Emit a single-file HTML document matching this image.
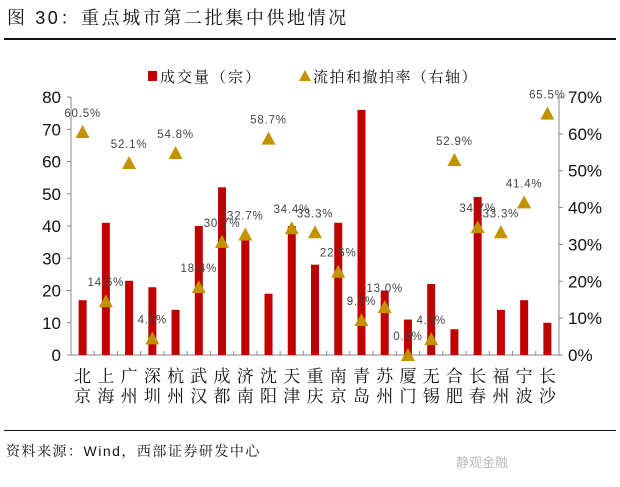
<!DOCTYPE html>
<html><head><meta charset="utf-8"><style>
body{margin:0;background:#fff;width:620px;height:487px;overflow:hidden;font-family:"Liberation Sans","Noto Sans CJK SC",sans-serif}
</style></head><body>
<div style="position:absolute;left:7px;top:4px;font-size:18px;letter-spacing:2.6px;color:#111;font-family:'Liberation Sans','Noto Serif CJK SC',serif">图 30：重点城市第二批集中供地情况</div>
<div style="position:absolute;left:4px;top:38px;width:612px;height:2px;background:#111"></div>
<svg id="c" width="620" height="487" style="position:absolute;left:0;top:0" font-family="Liberation Sans, Noto Sans CJK SC, sans-serif"></svg>
<div style="position:absolute;left:4px;top:430px;width:612px;height:1px;background:#111"></div>
<div style="position:absolute;left:6px;top:441px;font-size:14px;letter-spacing:1.5px;color:#111;font-family:'Liberation Sans','Noto Serif CJK SC',serif">资料来源：Wind，西部证券研发中心</div>
<div style="position:absolute;left:456px;top:452px;font-size:13px;color:#bbb">静观金融</div>
<script>
const cities=["北京","上海","广州","深圳","杭州","武汉","成都","济南","沈阳","天津","重庆","南京","青岛","苏州","厦门","无锡","合肥","长春","福州","宁波","长沙"];
const volume=[17,41,23,21,14,40,52,37,19,40,28,41,76,20,11,22,8,49,14,17,10];
const rate=[60.5,14.6,52.1,4.5,54.8,18.4,30.7,32.7,58.7,34.4,33.3,22.6,9.5,13.0,0.0,4.3,52.9,34.7,33.3,41.4,65.5];
const leftTicks=[0,10,20,30,40,50,60,70,80];
const rightTicks=[0,10,20,30,40,50,60,70];
const svg=document.getElementById('c');const NS='http://www.w3.org/2000/svg';
const X0=71,X1=559,Y0=355,Y1=97;
const band=(X1-X0)/cities.length;
const xc=i=>X0+band*(i+0.5);
const yl=v=>Y0-(v/80)*(Y0-Y1);
const yr=v=>Y0-(v/70)*(Y0-Y1);
function el(t,a,txt){const e=document.createElementNS(NS,t);for(const k in a)e.setAttribute(k,a[k]);if(txt!==undefined)e.textContent=txt;svg.appendChild(e);return e;}
let e;
e=el('line',{x1:X0,y1:Y1,x2:X0,y2:Y0,stroke:'#888'});


e=el('line',{x1:X1,y1:Y1,x2:X1,y2:Y0,stroke:'#888'});


e=el('line',{x1:X0,y1:Y0,x2:X1,y2:Y0,stroke:'#888'});


leftTicks.forEach(v=>{const y=yl(v);
el('line',{x1:X0-4,y1:y,x2:X0,y2:y,stroke:'#888'});
e=el('text',{x:X0-10,y:y+6,'text-anchor':'end','font-size':17,fill:'#111'},v);

});
rightTicks.forEach(v=>{const y=yr(v);
el('line',{x1:X1,y1:y,x2:X1+4,y2:y,stroke:'#888'});
e=el('text',{x:X1+9,y:y+6,'font-size':17,fill:'#111'},v+'%');

});
cities.forEach((c,i)=>{
el('line',{x1:X0+band*(i+1),y1:Y0,x2:X0+band*(i+1),y2:Y0-4,stroke:'#888'});
const y=yl(volume[i]);
e=el('rect',{x:xc(i)-4,y:y,width:8,height:Y0-y,fill:'#c00000'});


e=el('text',{x:xc(i),y:382,'text-anchor':'middle','font-size':17,fill:'#111','font-family':'Noto Serif CJK SC, serif'},c[0]);


el('text',{x:xc(i),y:402,'text-anchor':'middle','font-size':17,fill:'#111','font-family':'Noto Serif CJK SC, serif'},c[1]);
});
cities.forEach((c,i)=>{
const x=xc(i),y=yr(rate[i]);
e=el('polygon',{points:`${x},${y-7} ${x-7},${y+6} ${x+7},${y+6}`,fill:'#c39200'});


e=el('text',{x:x,y:y-15,'text-anchor':'middle','font-size':11.5,'letter-spacing':'0.8',fill:'#444'},rate[i].toFixed(1)+'%');


});
e=el('rect',{x:148,y:71,width:9,height:10,fill:'#c00000'});


e=el('text',{x:160,y:82,'font-size':15,'letter-spacing':'2',fill:'#111','font-family':'Noto Serif CJK SC, serif'},'成交量（宗）');


e=el('polygon',{points:'305,70 299,81 311,81',fill:'#c39200'});


e=el('text',{x:313,y:82,'font-size':15,'letter-spacing':'1.5',fill:'#111','font-family':'Noto Serif CJK SC, serif'},'流拍和撤拍率（右轴）');


</script>
</body></html>
